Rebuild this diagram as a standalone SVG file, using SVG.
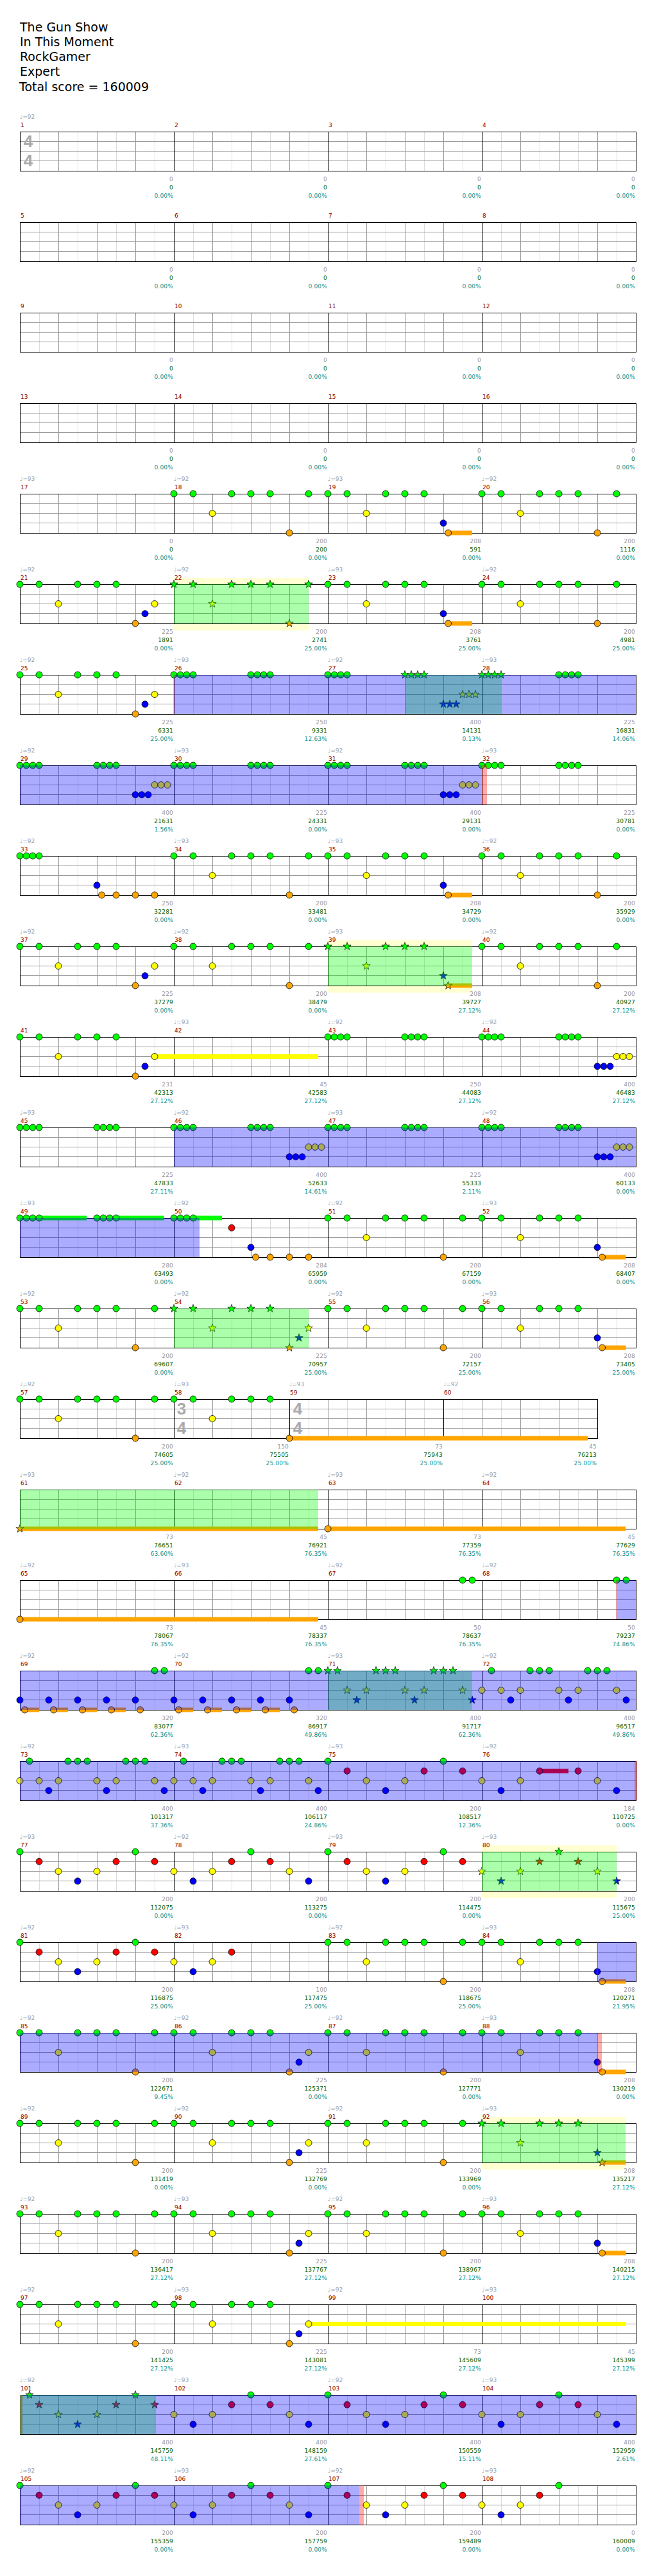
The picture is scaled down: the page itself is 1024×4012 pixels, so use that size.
<svg xmlns="http://www.w3.org/2000/svg" xmlns:xlink="http://www.w3.org/1999/xlink" width="1024" height="4012" viewBox="0 0 1024 4012">
<style>
text{font-family:"DejaVu Sans","Liberation Sans",sans-serif}
.h{font-size:19px;fill:#000}
.tp{font-size:9px;fill:#a0a0a0}
.mn{font-size:9px;fill:#8b0000}
.s1,.s2,.s3{font-size:9px;text-anchor:end;letter-spacing:.2px}
.s1{fill:#999}.s2{fill:#006400}.s3{fill:#009999}
text.ts{font-family:"Liberation Sans",sans-serif;font-size:26px;font-weight:bold;fill:#aaa;text-anchor:middle}
circle{stroke:#000;stroke-width:.8}
.g{fill:#00ff00}.r{fill:#ff0000}.y{fill:#ffff00}.b{fill:#0000ff}.o{fill:#ffa500}
.od{fill:#00ff00;fill-opacity:.33}
.bl{fill:#0000ff;fill-opacity:.33}
.yb{fill:#ffffd2}
.pk{fill:#ff0000;fill-opacity:.33}
.rl{fill:#ff3030;fill-opacity:.7}
</style>
<defs>
<path id="st" d="M0,-6.5L1.53,-2.1L6.18,-2.01L2.47,0.8L3.82,5.26L0,2.6L-3.82,5.26L-2.47,0.8L-6.18,-2.01L-1.53,-2.1Z" stroke="#000" stroke-width=".7"/>
<g id="staff" shape-rendering="crispEdges">
<rect x="31" y="0" width="960" height="61" fill="#fff"/>
<path d="M61 0V61M121 0V61M181 0V61M241 0V61M301 0V61M361 0V61M421 0V61M481 0V61M541 0V61M601 0V61M661 0V61M721 0V61M781 0V61M841 0V61M901 0V61M961 0V61" stroke="#ddd"/>
<path d="M91 0V61M151 0V61M211 0V61M331 0V61M391 0V61M451 0V61M571 0V61M631 0V61M691 0V61M811 0V61M871 0V61M931 0V61M31 15.25H991M31 30.5H991M31 45.75H991" stroke="#999"/>
<path d="M271 0V61M511 0V61M751 0V61" stroke="#000"/>
<rect x="31" y="0" width="960" height="61" fill="none" stroke="#000"/>
</g>
<g id="staff3" shape-rendering="crispEdges">
<rect x="31" y="0" width="900" height="61" fill="#fff"/>
<path d="M61 0V61M121 0V61M181 0V61M241 0V61M301 0V61M361 0V61M421 0V61M481 0V61M541 0V61M601 0V61M661 0V61M721 0V61M781 0V61M841 0V61M901 0V61" stroke="#ddd"/>
<path d="M91 0V61M151 0V61M211 0V61M331 0V61M391 0V61M511 0V61M571 0V61M631 0V61M751 0V61M811 0V61M871 0V61M31 15.25H931M31 30.5H931M31 45.75H931" stroke="#999"/>
<path d="M271 0V61M451 0V61M691 0V61" stroke="#000"/>
<rect x="31" y="0" width="900" height="61" fill="none" stroke="#000"/>
</g>
</defs>
<rect width="1024" height="4012" fill="#fff"/>
<g id="header">
<text class="h" x="31" y="49">The Gun Show</text>
<text class="h" x="31" y="72">In This Moment</text>
<text class="h" x="31" y="95">RockGamer</text>
<text class="h" x="31" y="118">Expert</text>
<text class="h" x="30" y="141.5">Total score = 160009</text>
</g>

<g id="row1" transform="translate(0,205)">
<use href="#staff"/>
<text class="ts" x="44" y="24.3">4</text><text class="ts" x="44" y="54">4</text>
<text class="tp" x="31" y="-20">♩=92</text>
<text class="mn" x="32" y="-7">1</text><text class="mn" x="272" y="-7">2</text><text class="mn" x="512" y="-7">3</text><text class="mn" x="752" y="-7">4</text>
<text class="s1" x="270" y="76.5">0</text><text class="s2" x="270" y="89.5">0</text><text class="s3" x="270" y="102.5">0.00%</text>
<text class="s1" x="510" y="76.5">0</text><text class="s2" x="510" y="89.5">0</text><text class="s3" x="510" y="102.5">0.00%</text>
<text class="s1" x="750" y="76.5">0</text><text class="s2" x="750" y="89.5">0</text><text class="s3" x="750" y="102.5">0.00%</text>
<text class="s1" x="990" y="76.5">0</text><text class="s2" x="990" y="89.5">0</text><text class="s3" x="990" y="102.5">0.00%</text>
</g>

<g id="row2" transform="translate(0,346)">
<use href="#staff"/>
<text class="mn" x="32" y="-7">5</text><text class="mn" x="272" y="-7">6</text><text class="mn" x="512" y="-7">7</text><text class="mn" x="752" y="-7">8</text>
<text class="s1" x="270" y="76.5">0</text><text class="s2" x="270" y="89.5">0</text><text class="s3" x="270" y="102.5">0.00%</text>
<text class="s1" x="510" y="76.5">0</text><text class="s2" x="510" y="89.5">0</text><text class="s3" x="510" y="102.5">0.00%</text>
<text class="s1" x="750" y="76.5">0</text><text class="s2" x="750" y="89.5">0</text><text class="s3" x="750" y="102.5">0.00%</text>
<text class="s1" x="990" y="76.5">0</text><text class="s2" x="990" y="89.5">0</text><text class="s3" x="990" y="102.5">0.00%</text>
</g>

<g id="row3" transform="translate(0,487)">
<use href="#staff"/>
<text class="mn" x="32" y="-7">9</text><text class="mn" x="272" y="-7">10</text><text class="mn" x="512" y="-7">11</text><text class="mn" x="752" y="-7">12</text>
<text class="s1" x="270" y="76.5">0</text><text class="s2" x="270" y="89.5">0</text><text class="s3" x="270" y="102.5">0.00%</text>
<text class="s1" x="510" y="76.5">0</text><text class="s2" x="510" y="89.5">0</text><text class="s3" x="510" y="102.5">0.00%</text>
<text class="s1" x="750" y="76.5">0</text><text class="s2" x="750" y="89.5">0</text><text class="s3" x="750" y="102.5">0.00%</text>
<text class="s1" x="990" y="76.5">0</text><text class="s2" x="990" y="89.5">0</text><text class="s3" x="990" y="102.5">0.00%</text>
</g>

<g id="row4" transform="translate(0,628)">
<use href="#staff"/>
<text class="mn" x="32" y="-7">13</text><text class="mn" x="272" y="-7">14</text><text class="mn" x="512" y="-7">15</text><text class="mn" x="752" y="-7">16</text>
<text class="s1" x="270" y="76.5">0</text><text class="s2" x="270" y="89.5">0</text><text class="s3" x="270" y="102.5">0.00%</text>
<text class="s1" x="510" y="76.5">0</text><text class="s2" x="510" y="89.5">0</text><text class="s3" x="510" y="102.5">0.00%</text>
<text class="s1" x="750" y="76.5">0</text><text class="s2" x="750" y="89.5">0</text><text class="s3" x="750" y="102.5">0.00%</text>
<text class="s1" x="990" y="76.5">0</text><text class="s2" x="990" y="89.5">0</text><text class="s3" x="990" y="102.5">0.00%</text>
</g>

<g id="row5" transform="translate(0,769)">
<use href="#staff"/>
<rect class="o" x="698.5" y="57.5" width="37.5" height="7"/>
<circle class="g" cx="271" cy="0" r="5"/><circle class="g" cx="301" cy="0" r="5"/><circle class="g" cx="361" cy="0" r="5"/><circle class="g" cx="391" cy="0" r="5"/><circle class="g" cx="421" cy="0" r="5"/><circle class="g" cx="481" cy="0" r="5"/><circle class="g" cx="511" cy="0" r="5"/><circle class="g" cx="541" cy="0" r="5"/><circle class="g" cx="601" cy="0" r="5"/><circle class="g" cx="631" cy="0" r="5"/><circle class="g" cx="661" cy="0" r="5"/><circle class="g" cx="751" cy="0" r="5"/><circle class="g" cx="781" cy="0" r="5"/><circle class="g" cx="841" cy="0" r="5"/><circle class="g" cx="871" cy="0" r="5"/><circle class="g" cx="901" cy="0" r="5"/><circle class="g" cx="961" cy="0" r="5"/>
<circle class="y" cx="331" cy="30.5" r="5"/><circle class="y" cx="571" cy="30.5" r="5"/><circle class="y" cx="811" cy="30.5" r="5"/>
<circle class="b" cx="691" cy="45.75" r="5"/>
<circle class="o" cx="451" cy="61" r="5"/><circle class="o" cx="698.5" cy="61" r="5"/><circle class="o" cx="931" cy="61" r="5"/>
<text class="tp" x="31" y="-20">♩=93</text><text class="tp" x="271" y="-20">♩=92</text><text class="tp" x="511" y="-20">♩=93</text><text class="tp" x="751" y="-20">♩=92</text>
<text class="mn" x="32" y="-7">17</text><text class="mn" x="272" y="-7">18</text><text class="mn" x="512" y="-7">19</text><text class="mn" x="752" y="-7">20</text>
<text class="s1" x="270" y="76.5">0</text><text class="s2" x="270" y="89.5">0</text><text class="s3" x="270" y="102.5">0.00%</text>
<text class="s1" x="510" y="76.5">200</text><text class="s2" x="510" y="89.5">200</text><text class="s3" x="510" y="102.5">0.00%</text>
<text class="s1" x="750" y="76.5">208</text><text class="s2" x="750" y="89.5">591</text><text class="s3" x="750" y="102.5">0.00%</text>
<text class="s1" x="990" y="76.5">200</text><text class="s2" x="990" y="89.5">1116</text><text class="s3" x="990" y="102.5">0.00%</text>
</g>

<g id="row6" transform="translate(0,910)">
<rect class="yb" x="271" y="-10" width="210" height="82"/>
<use href="#staff"/>
<rect class="o" x="698.5" y="57.5" width="37.5" height="7"/>
<circle class="g" cx="31" cy="0" r="5"/><circle class="g" cx="61" cy="0" r="5"/><circle class="g" cx="121" cy="0" r="5"/><circle class="g" cx="151" cy="0" r="5"/><circle class="g" cx="181" cy="0" r="5"/><circle class="g" cx="511" cy="0" r="5"/><circle class="g" cx="541" cy="0" r="5"/><circle class="g" cx="601" cy="0" r="5"/><circle class="g" cx="631" cy="0" r="5"/><circle class="g" cx="661" cy="0" r="5"/><circle class="g" cx="751" cy="0" r="5"/><circle class="g" cx="781" cy="0" r="5"/><circle class="g" cx="841" cy="0" r="5"/><circle class="g" cx="871" cy="0" r="5"/><circle class="g" cx="901" cy="0" r="5"/><circle class="g" cx="961" cy="0" r="5"/>
<circle class="y" cx="91" cy="30.5" r="5"/><circle class="y" cx="241" cy="30.5" r="5"/><circle class="y" cx="571" cy="30.5" r="5"/><circle class="y" cx="811" cy="30.5" r="5"/>
<circle class="b" cx="226" cy="45.75" r="5"/><circle class="b" cx="691" cy="45.75" r="5"/>
<circle class="o" cx="211" cy="61" r="5"/><circle class="o" cx="698.5" cy="61" r="5"/><circle class="o" cx="931" cy="61" r="5"/>
<use href="#st" class="g" x="271" y="0"/><use href="#st" class="g" x="301" y="0"/><use href="#st" class="g" x="361" y="0"/><use href="#st" class="g" x="391" y="0"/><use href="#st" class="g" x="421" y="0"/><use href="#st" class="g" x="481" y="0"/><use href="#st" class="y" x="331" y="30.5"/><use href="#st" class="o" x="451" y="61"/>
<rect class="od" x="271" y="0" width="210" height="61"/>
<text class="tp" x="31" y="-20">♩=92</text><text class="tp" x="271" y="-20">♩=92</text><text class="tp" x="511" y="-20">♩=93</text><text class="tp" x="751" y="-20">♩=92</text>
<text class="mn" x="32" y="-7">21</text><text class="mn" x="272" y="-7">22</text><text class="mn" x="512" y="-7">23</text><text class="mn" x="752" y="-7">24</text>
<text class="s1" x="270" y="76.5">225</text><text class="s2" x="270" y="89.5">1891</text><text class="s3" x="270" y="102.5">0.00%</text>
<text class="s1" x="510" y="76.5">200</text><text class="s2" x="510" y="89.5">2741</text><text class="s3" x="510" y="102.5">25.00%</text>
<text class="s1" x="750" y="76.5">208</text><text class="s2" x="750" y="89.5">3761</text><text class="s3" x="750" y="102.5">25.00%</text>
<text class="s1" x="990" y="76.5">200</text><text class="s2" x="990" y="89.5">4981</text><text class="s3" x="990" y="102.5">25.00%</text>
</g>

<g id="row7" transform="translate(0,1051)">
<use href="#staff"/>
<circle class="g" cx="31" cy="0" r="5"/><circle class="g" cx="61" cy="0" r="5"/><circle class="g" cx="121" cy="0" r="5"/><circle class="g" cx="151" cy="0" r="5"/><circle class="g" cx="181" cy="0" r="5"/>
<circle class="g" cx="271" cy="0" r="5"/><circle class="g" cx="281" cy="0" r="5"/><circle class="g" cx="291" cy="0" r="5"/><circle class="g" cx="301" cy="0" r="5"/>
<circle class="g" cx="391" cy="0" r="5"/><circle class="g" cx="401" cy="0" r="5"/><circle class="g" cx="411" cy="0" r="5"/><circle class="g" cx="421" cy="0" r="5"/>
<circle class="g" cx="511" cy="0" r="5"/><circle class="g" cx="521" cy="0" r="5"/><circle class="g" cx="531" cy="0" r="5"/><circle class="g" cx="541" cy="0" r="5"/>
<circle class="g" cx="871" cy="0" r="5"/><circle class="g" cx="881" cy="0" r="5"/><circle class="g" cx="891" cy="0" r="5"/><circle class="g" cx="901" cy="0" r="5"/>
<circle class="y" cx="91" cy="30.5" r="5"/><circle class="y" cx="241" cy="30.5" r="5"/>
<circle class="b" cx="226" cy="45.75" r="5"/>
<circle class="o" cx="211" cy="61" r="5"/>
<use href="#st" class="g" x="631" y="0"/><use href="#st" class="g" x="641" y="0"/><use href="#st" class="g" x="651" y="0"/><use href="#st" class="g" x="661" y="0"/>
<use href="#st" class="g" x="751" y="0"/><use href="#st" class="g" x="761" y="0"/><use href="#st" class="g" x="771" y="0"/><use href="#st" class="g" x="781" y="0"/>
<use href="#st" class="b" x="691" y="45.75"/><use href="#st" class="b" x="701" y="45.75"/><use href="#st" class="b" x="711" y="45.75"/>
<use href="#st" class="y" x="721" y="30.5"/><use href="#st" class="y" x="731" y="30.5"/><use href="#st" class="y" x="741" y="30.5"/>
<rect class="od" x="631" y="0" width="150" height="61"/>
<rect class="bl" x="271" y="0" width="720" height="61"/>
<rect class="rl" x="270.5" y="0" width="1" height="61"/>
<text class="tp" x="31" y="-20">♩=92</text><text class="tp" x="271" y="-20">♩=93</text><text class="tp" x="511" y="-20">♩=92</text><text class="tp" x="751" y="-20">♩=93</text>
<text class="mn" x="32" y="-7">25</text><text class="mn" x="272" y="-7">26</text><text class="mn" x="512" y="-7">27</text><text class="mn" x="752" y="-7">28</text>
<text class="s1" x="270" y="76.5">225</text><text class="s2" x="270" y="89.5">6331</text><text class="s3" x="270" y="102.5">25.00%</text>
<text class="s1" x="510" y="76.5">250</text><text class="s2" x="510" y="89.5">9331</text><text class="s3" x="510" y="102.5">12.63%</text>
<text class="s1" x="750" y="76.5">400</text><text class="s2" x="750" y="89.5">14131</text><text class="s3" x="750" y="102.5">0.13%</text>
<text class="s1" x="990" y="76.5">225</text><text class="s2" x="990" y="89.5">16831</text><text class="s3" x="990" y="102.5">14.06%</text>
</g>

<g id="row8" transform="translate(0,1192)">
<use href="#staff"/>
<circle class="g" cx="31" cy="0" r="5"/><circle class="g" cx="41" cy="0" r="5"/><circle class="g" cx="51" cy="0" r="5"/><circle class="g" cx="61" cy="0" r="5"/>
<circle class="g" cx="151" cy="0" r="5"/><circle class="g" cx="161" cy="0" r="5"/><circle class="g" cx="171" cy="0" r="5"/><circle class="g" cx="181" cy="0" r="5"/>
<circle class="g" cx="271" cy="0" r="5"/><circle class="g" cx="281" cy="0" r="5"/><circle class="g" cx="291" cy="0" r="5"/><circle class="g" cx="301" cy="0" r="5"/>
<circle class="g" cx="391" cy="0" r="5"/><circle class="g" cx="401" cy="0" r="5"/><circle class="g" cx="411" cy="0" r="5"/><circle class="g" cx="421" cy="0" r="5"/>
<circle class="g" cx="511" cy="0" r="5"/><circle class="g" cx="521" cy="0" r="5"/><circle class="g" cx="531" cy="0" r="5"/><circle class="g" cx="541" cy="0" r="5"/>
<circle class="g" cx="631" cy="0" r="5"/><circle class="g" cx="641" cy="0" r="5"/><circle class="g" cx="651" cy="0" r="5"/><circle class="g" cx="661" cy="0" r="5"/>
<circle class="g" cx="751" cy="0" r="5"/><circle class="g" cx="761" cy="0" r="5"/><circle class="g" cx="771" cy="0" r="5"/><circle class="g" cx="781" cy="0" r="5"/>
<circle class="g" cx="871" cy="0" r="5"/><circle class="g" cx="881" cy="0" r="5"/><circle class="g" cx="891" cy="0" r="5"/><circle class="g" cx="901" cy="0" r="5"/>
<circle class="b" cx="211" cy="45.75" r="5"/><circle class="b" cx="221" cy="45.75" r="5"/><circle class="b" cx="231" cy="45.75" r="5"/>
<circle class="y" cx="241" cy="30.5" r="5"/><circle class="y" cx="251" cy="30.5" r="5"/><circle class="y" cx="261" cy="30.5" r="5"/>
<circle class="b" cx="691" cy="45.75" r="5"/><circle class="b" cx="701" cy="45.75" r="5"/><circle class="b" cx="711" cy="45.75" r="5"/>
<circle class="y" cx="721" cy="30.5" r="5"/><circle class="y" cx="731" cy="30.5" r="5"/><circle class="y" cx="741" cy="30.5" r="5"/>
<rect class="bl" x="31" y="0" width="720" height="61"/>
<rect class="pk" x="751" y="0" width="8" height="61"/>
<text class="tp" x="31" y="-20">♩=92</text><text class="tp" x="271" y="-20">♩=93</text><text class="tp" x="511" y="-20">♩=92</text><text class="tp" x="751" y="-20">♩=93</text>
<text class="mn" x="32" y="-7">29</text><text class="mn" x="272" y="-7">30</text><text class="mn" x="512" y="-7">31</text><text class="mn" x="752" y="-7">32</text>
<text class="s1" x="270" y="76.5">400</text><text class="s2" x="270" y="89.5">21631</text><text class="s3" x="270" y="102.5">1.56%</text>
<text class="s1" x="510" y="76.5">225</text><text class="s2" x="510" y="89.5">24331</text><text class="s3" x="510" y="102.5">0.00%</text>
<text class="s1" x="750" y="76.5">400</text><text class="s2" x="750" y="89.5">29131</text><text class="s3" x="750" y="102.5">0.00%</text>
<text class="s1" x="990" y="76.5">225</text><text class="s2" x="990" y="89.5">30781</text><text class="s3" x="990" y="102.5">0.00%</text>
</g>

<g id="row9" transform="translate(0,1333)">
<use href="#staff"/>
<rect class="o" x="698.5" y="57.5" width="37.5" height="7"/>
<circle class="g" cx="31" cy="0" r="5"/><circle class="g" cx="41" cy="0" r="5"/><circle class="g" cx="51" cy="0" r="5"/><circle class="g" cx="61" cy="0" r="5"/>
<circle class="g" cx="271" cy="0" r="5"/><circle class="g" cx="301" cy="0" r="5"/><circle class="g" cx="361" cy="0" r="5"/><circle class="g" cx="391" cy="0" r="5"/><circle class="g" cx="421" cy="0" r="5"/><circle class="g" cx="481" cy="0" r="5"/><circle class="g" cx="511" cy="0" r="5"/><circle class="g" cx="541" cy="0" r="5"/><circle class="g" cx="601" cy="0" r="5"/><circle class="g" cx="631" cy="0" r="5"/><circle class="g" cx="661" cy="0" r="5"/><circle class="g" cx="751" cy="0" r="5"/><circle class="g" cx="781" cy="0" r="5"/><circle class="g" cx="841" cy="0" r="5"/><circle class="g" cx="871" cy="0" r="5"/><circle class="g" cx="901" cy="0" r="5"/><circle class="g" cx="961" cy="0" r="5"/>
<circle class="y" cx="331" cy="30.5" r="5"/><circle class="y" cx="571" cy="30.5" r="5"/><circle class="y" cx="811" cy="30.5" r="5"/>
<circle class="b" cx="151" cy="45.75" r="5"/><circle class="b" cx="691" cy="45.75" r="5"/>
<circle class="o" cx="158.5" cy="61" r="5"/><circle class="o" cx="181" cy="61" r="5"/><circle class="o" cx="211" cy="61" r="5"/><circle class="o" cx="241" cy="61" r="5"/><circle class="o" cx="451" cy="61" r="5"/><circle class="o" cx="698.5" cy="61" r="5"/><circle class="o" cx="931" cy="61" r="5"/>
<text class="tp" x="31" y="-20">♩=92</text><text class="tp" x="271" y="-20">♩=93</text><text class="tp" x="511" y="-20">♩=93</text><text class="tp" x="751" y="-20">♩=92</text>
<text class="mn" x="32" y="-7">33</text><text class="mn" x="272" y="-7">34</text><text class="mn" x="512" y="-7">35</text><text class="mn" x="752" y="-7">36</text>
<text class="s1" x="270" y="76.5">250</text><text class="s2" x="270" y="89.5">32281</text><text class="s3" x="270" y="102.5">0.00%</text>
<text class="s1" x="510" y="76.5">200</text><text class="s2" x="510" y="89.5">33481</text><text class="s3" x="510" y="102.5">0.00%</text>
<text class="s1" x="750" y="76.5">208</text><text class="s2" x="750" y="89.5">34729</text><text class="s3" x="750" y="102.5">0.00%</text>
<text class="s1" x="990" y="76.5">200</text><text class="s2" x="990" y="89.5">35929</text><text class="s3" x="990" y="102.5">0.00%</text>
</g>

<g id="row10" transform="translate(0,1474)">
<rect class="yb" x="511" y="-10" width="225" height="82"/>
<use href="#staff"/>
<rect class="o" x="698.5" y="57.5" width="37.5" height="7"/>
<circle class="g" cx="31" cy="0" r="5"/><circle class="g" cx="61" cy="0" r="5"/><circle class="g" cx="121" cy="0" r="5"/><circle class="g" cx="151" cy="0" r="5"/><circle class="g" cx="181" cy="0" r="5"/><circle class="g" cx="271" cy="0" r="5"/><circle class="g" cx="301" cy="0" r="5"/><circle class="g" cx="361" cy="0" r="5"/><circle class="g" cx="391" cy="0" r="5"/><circle class="g" cx="421" cy="0" r="5"/><circle class="g" cx="481" cy="0" r="5"/><circle class="g" cx="751" cy="0" r="5"/><circle class="g" cx="781" cy="0" r="5"/><circle class="g" cx="841" cy="0" r="5"/><circle class="g" cx="871" cy="0" r="5"/><circle class="g" cx="901" cy="0" r="5"/><circle class="g" cx="961" cy="0" r="5"/>
<circle class="y" cx="91" cy="30.5" r="5"/><circle class="y" cx="241" cy="30.5" r="5"/><circle class="y" cx="331" cy="30.5" r="5"/><circle class="y" cx="811" cy="30.5" r="5"/>
<circle class="b" cx="226" cy="45.75" r="5"/>
<circle class="o" cx="211" cy="61" r="5"/><circle class="o" cx="451" cy="61" r="5"/><circle class="o" cx="931" cy="61" r="5"/>
<use href="#st" class="g" x="511" y="0"/><use href="#st" class="g" x="541" y="0"/><use href="#st" class="g" x="601" y="0"/><use href="#st" class="g" x="631" y="0"/><use href="#st" class="g" x="661" y="0"/><use href="#st" class="y" x="571" y="30.5"/><use href="#st" class="b" x="691" y="45.75"/><use href="#st" class="o" x="698.5" y="61"/>
<rect class="od" x="511" y="0" width="225" height="61"/>
<text class="tp" x="31" y="-20">♩=92</text><text class="tp" x="271" y="-20">♩=92</text><text class="tp" x="511" y="-20">♩=93</text><text class="tp" x="751" y="-20">♩=92</text>
<text class="mn" x="32" y="-7">37</text><text class="mn" x="272" y="-7">38</text><text class="mn" x="512" y="-7">39</text><text class="mn" x="752" y="-7">40</text>
<text class="s1" x="270" y="76.5">225</text><text class="s2" x="270" y="89.5">37279</text><text class="s3" x="270" y="102.5">0.00%</text>
<text class="s1" x="510" y="76.5">200</text><text class="s2" x="510" y="89.5">38479</text><text class="s3" x="510" y="102.5">0.00%</text>
<text class="s1" x="750" y="76.5">208</text><text class="s2" x="750" y="89.5">39727</text><text class="s3" x="750" y="102.5">27.12%</text>
<text class="s1" x="990" y="76.5">200</text><text class="s2" x="990" y="89.5">40927</text><text class="s3" x="990" y="102.5">27.12%</text>
</g>

<g id="row11" transform="translate(0,1615)">
<use href="#staff"/>
<rect class="y" x="241" y="27" width="255" height="7"/>
<circle class="g" cx="31" cy="0" r="5"/><circle class="g" cx="61" cy="0" r="5"/><circle class="g" cx="121" cy="0" r="5"/><circle class="g" cx="151" cy="0" r="5"/><circle class="g" cx="181" cy="0" r="5"/>
<circle class="g" cx="511" cy="0" r="5"/><circle class="g" cx="521" cy="0" r="5"/><circle class="g" cx="531" cy="0" r="5"/><circle class="g" cx="541" cy="0" r="5"/>
<circle class="g" cx="631" cy="0" r="5"/><circle class="g" cx="641" cy="0" r="5"/><circle class="g" cx="651" cy="0" r="5"/><circle class="g" cx="661" cy="0" r="5"/>
<circle class="g" cx="751" cy="0" r="5"/><circle class="g" cx="761" cy="0" r="5"/><circle class="g" cx="771" cy="0" r="5"/><circle class="g" cx="781" cy="0" r="5"/>
<circle class="g" cx="871" cy="0" r="5"/><circle class="g" cx="881" cy="0" r="5"/><circle class="g" cx="891" cy="0" r="5"/><circle class="g" cx="901" cy="0" r="5"/>
<circle class="y" cx="91" cy="30.5" r="5"/><circle class="y" cx="241" cy="30.5" r="5"/>
<circle class="y" cx="961" cy="30.5" r="5"/><circle class="y" cx="971" cy="30.5" r="5"/><circle class="y" cx="981" cy="30.5" r="5"/>
<circle class="b" cx="226" cy="45.75" r="5"/>
<circle class="b" cx="931" cy="45.75" r="5"/><circle class="b" cx="941" cy="45.75" r="5"/><circle class="b" cx="951" cy="45.75" r="5"/>
<circle class="o" cx="211" cy="61" r="5"/>
<text class="tp" x="271" y="-20">♩=93</text><text class="tp" x="511" y="-20">♩=92</text><text class="tp" x="751" y="-20">♩=92</text>
<text class="mn" x="32" y="-7">41</text><text class="mn" x="272" y="-7">42</text><text class="mn" x="512" y="-7">43</text><text class="mn" x="752" y="-7">44</text>
<text class="s1" x="270" y="76.5">231</text><text class="s2" x="270" y="89.5">42313</text><text class="s3" x="270" y="102.5">27.12%</text>
<text class="s1" x="510" y="76.5">45</text><text class="s2" x="510" y="89.5">42583</text><text class="s3" x="510" y="102.5">27.12%</text>
<text class="s1" x="750" y="76.5">250</text><text class="s2" x="750" y="89.5">44083</text><text class="s3" x="750" y="102.5">27.12%</text>
<text class="s1" x="990" y="76.5">400</text><text class="s2" x="990" y="89.5">46483</text><text class="s3" x="990" y="102.5">27.12%</text>
</g>

<g id="row12" transform="translate(0,1756)">
<use href="#staff"/>
<circle class="g" cx="31" cy="0" r="5"/><circle class="g" cx="41" cy="0" r="5"/><circle class="g" cx="51" cy="0" r="5"/><circle class="g" cx="61" cy="0" r="5"/>
<circle class="g" cx="151" cy="0" r="5"/><circle class="g" cx="161" cy="0" r="5"/><circle class="g" cx="171" cy="0" r="5"/><circle class="g" cx="181" cy="0" r="5"/>
<circle class="g" cx="271" cy="0" r="5"/><circle class="g" cx="281" cy="0" r="5"/><circle class="g" cx="291" cy="0" r="5"/><circle class="g" cx="301" cy="0" r="5"/>
<circle class="g" cx="391" cy="0" r="5"/><circle class="g" cx="401" cy="0" r="5"/><circle class="g" cx="411" cy="0" r="5"/><circle class="g" cx="421" cy="0" r="5"/>
<circle class="g" cx="511" cy="0" r="5"/><circle class="g" cx="521" cy="0" r="5"/><circle class="g" cx="531" cy="0" r="5"/><circle class="g" cx="541" cy="0" r="5"/>
<circle class="g" cx="631" cy="0" r="5"/><circle class="g" cx="641" cy="0" r="5"/><circle class="g" cx="651" cy="0" r="5"/><circle class="g" cx="661" cy="0" r="5"/>
<circle class="g" cx="751" cy="0" r="5"/><circle class="g" cx="761" cy="0" r="5"/><circle class="g" cx="771" cy="0" r="5"/><circle class="g" cx="781" cy="0" r="5"/>
<circle class="g" cx="871" cy="0" r="5"/><circle class="g" cx="881" cy="0" r="5"/><circle class="g" cx="891" cy="0" r="5"/><circle class="g" cx="901" cy="0" r="5"/>
<circle class="b" cx="451" cy="45.75" r="5"/><circle class="b" cx="461" cy="45.75" r="5"/><circle class="b" cx="471" cy="45.75" r="5"/>
<circle class="y" cx="481" cy="30.5" r="5"/><circle class="y" cx="491" cy="30.5" r="5"/><circle class="y" cx="501" cy="30.5" r="5"/>
<circle class="b" cx="931" cy="45.75" r="5"/><circle class="b" cx="941" cy="45.75" r="5"/><circle class="b" cx="951" cy="45.75" r="5"/>
<circle class="y" cx="961" cy="30.5" r="5"/><circle class="y" cx="971" cy="30.5" r="5"/><circle class="y" cx="981" cy="30.5" r="5"/>
<rect class="bl" x="271" y="0" width="720" height="61"/>
<text class="tp" x="31" y="-20">♩=93</text><text class="tp" x="271" y="-20">♩=92</text><text class="tp" x="511" y="-20">♩=93</text><text class="tp" x="751" y="-20">♩=92</text>
<text class="mn" x="32" y="-7">45</text><text class="mn" x="272" y="-7">46</text><text class="mn" x="512" y="-7">47</text><text class="mn" x="752" y="-7">48</text>
<text class="s1" x="270" y="76.5">225</text><text class="s2" x="270" y="89.5">47833</text><text class="s3" x="270" y="102.5">27.11%</text>
<text class="s1" x="510" y="76.5">400</text><text class="s2" x="510" y="89.5">52633</text><text class="s3" x="510" y="102.5">14.61%</text>
<text class="s1" x="750" y="76.5">225</text><text class="s2" x="750" y="89.5">55333</text><text class="s3" x="750" y="102.5">2.11%</text>
<text class="s1" x="990" y="76.5">400</text><text class="s2" x="990" y="89.5">60133</text><text class="s3" x="990" y="102.5">0.00%</text>
</g>

<g id="row13" transform="translate(0,1897)">
<use href="#staff"/>
<rect class="g" x="61" y="-3.5" width="74" height="7"/><rect class="g" x="181" y="-3.5" width="75" height="7"/><rect class="g" x="301" y="-3.5" width="45" height="7"/>
<rect class="o" x="938.5" y="57.5" width="37" height="7"/>
<circle class="g" cx="31" cy="0" r="5"/><circle class="g" cx="41" cy="0" r="5"/><circle class="g" cx="51" cy="0" r="5"/><circle class="g" cx="61" cy="0" r="5"/>
<circle class="g" cx="151" cy="0" r="5"/><circle class="g" cx="161" cy="0" r="5"/><circle class="g" cx="171" cy="0" r="5"/><circle class="g" cx="181" cy="0" r="5"/>
<circle class="g" cx="271" cy="0" r="5"/><circle class="g" cx="281" cy="0" r="5"/><circle class="g" cx="291" cy="0" r="5"/><circle class="g" cx="301" cy="0" r="5"/>
<circle class="g" cx="511" cy="0" r="5"/><circle class="g" cx="541" cy="0" r="5"/><circle class="g" cx="601" cy="0" r="5"/><circle class="g" cx="631" cy="0" r="5"/><circle class="g" cx="661" cy="0" r="5"/><circle class="g" cx="721" cy="0" r="5"/><circle class="g" cx="751" cy="0" r="5"/><circle class="g" cx="781" cy="0" r="5"/><circle class="g" cx="841" cy="0" r="5"/><circle class="g" cx="871" cy="0" r="5"/><circle class="g" cx="901" cy="0" r="5"/>
<circle class="r" cx="361" cy="15.25" r="5"/>
<circle class="y" cx="571" cy="30.5" r="5"/><circle class="y" cx="811" cy="30.5" r="5"/>
<circle class="b" cx="391" cy="45.75" r="5"/><circle class="b" cx="931" cy="45.75" r="5"/>
<circle class="o" cx="398.5" cy="61" r="5"/><circle class="o" cx="421" cy="61" r="5"/><circle class="o" cx="451" cy="61" r="5"/><circle class="o" cx="481" cy="61" r="5"/><circle class="o" cx="691" cy="61" r="5"/><circle class="o" cx="938.5" cy="61" r="5"/>
<rect class="bl" x="31" y="0" width="280" height="61"/>
<text class="tp" x="31" y="-20">♩=93</text><text class="tp" x="271" y="-20">♩=92</text><text class="tp" x="511" y="-20">♩=92</text><text class="tp" x="751" y="-20">♩=93</text>
<text class="mn" x="32" y="-7">49</text><text class="mn" x="272" y="-7">50</text><text class="mn" x="512" y="-7">51</text><text class="mn" x="752" y="-7">52</text>
<text class="s1" x="270" y="76.5">280</text><text class="s2" x="270" y="89.5">63493</text><text class="s3" x="270" y="102.5">0.00%</text>
<text class="s1" x="510" y="76.5">284</text><text class="s2" x="510" y="89.5">65959</text><text class="s3" x="510" y="102.5">0.00%</text>
<text class="s1" x="750" y="76.5">200</text><text class="s2" x="750" y="89.5">67159</text><text class="s3" x="750" y="102.5">0.00%</text>
<text class="s1" x="990" y="76.5">208</text><text class="s2" x="990" y="89.5">68407</text><text class="s3" x="990" y="102.5">0.00%</text>
</g>

<g id="row14" transform="translate(0,2038)">
<use href="#staff"/>
<rect class="o" x="938.5" y="57.5" width="37" height="7"/>
<circle class="g" cx="31" cy="0" r="5"/><circle class="g" cx="61" cy="0" r="5"/><circle class="g" cx="121" cy="0" r="5"/><circle class="g" cx="151" cy="0" r="5"/><circle class="g" cx="181" cy="0" r="5"/><circle class="g" cx="241" cy="0" r="5"/><circle class="g" cx="511" cy="0" r="5"/><circle class="g" cx="541" cy="0" r="5"/><circle class="g" cx="601" cy="0" r="5"/><circle class="g" cx="631" cy="0" r="5"/><circle class="g" cx="661" cy="0" r="5"/><circle class="g" cx="721" cy="0" r="5"/><circle class="g" cx="751" cy="0" r="5"/><circle class="g" cx="781" cy="0" r="5"/><circle class="g" cx="841" cy="0" r="5"/><circle class="g" cx="871" cy="0" r="5"/><circle class="g" cx="901" cy="0" r="5"/>
<circle class="y" cx="91" cy="30.5" r="5"/><circle class="y" cx="571" cy="30.5" r="5"/><circle class="y" cx="811" cy="30.5" r="5"/>
<circle class="b" cx="931" cy="45.75" r="5"/>
<circle class="o" cx="211" cy="61" r="5"/><circle class="o" cx="691" cy="61" r="5"/><circle class="o" cx="938.5" cy="61" r="5"/>
<use href="#st" class="g" x="271" y="0"/><use href="#st" class="g" x="301" y="0"/><use href="#st" class="g" x="361" y="0"/><use href="#st" class="g" x="391" y="0"/><use href="#st" class="g" x="421" y="0"/><use href="#st" class="y" x="331" y="30.5"/><use href="#st" class="y" x="481" y="30.5"/><use href="#st" class="b" x="466" y="45.75"/><use href="#st" class="o" x="451" y="61"/>
<rect class="od" x="271" y="0" width="210" height="61"/>
<text class="tp" x="31" y="-20">♩=92</text><text class="tp" x="271" y="-20">♩=92</text><text class="tp" x="511" y="-20">♩=92</text><text class="tp" x="751" y="-20">♩=93</text>
<text class="mn" x="32" y="-7">53</text><text class="mn" x="272" y="-7">54</text><text class="mn" x="512" y="-7">55</text><text class="mn" x="752" y="-7">56</text>
<text class="s1" x="270" y="76.5">200</text><text class="s2" x="270" y="89.5">69607</text><text class="s3" x="270" y="102.5">0.00%</text>
<text class="s1" x="510" y="76.5">225</text><text class="s2" x="510" y="89.5">70957</text><text class="s3" x="510" y="102.5">25.00%</text>
<text class="s1" x="750" y="76.5">200</text><text class="s2" x="750" y="89.5">72157</text><text class="s3" x="750" y="102.5">25.00%</text>
<text class="s1" x="990" y="76.5">208</text><text class="s2" x="990" y="89.5">73405</text><text class="s3" x="990" y="102.5">25.00%</text>
</g>

<g id="row15" transform="translate(0,2179)">
<use href="#staff3"/>
<text class="ts" x="283" y="24.3">3</text><text class="ts" x="283" y="54">4</text>
<text class="ts" x="464" y="24.3">4</text><text class="ts" x="464" y="54">4</text>
<rect class="o" x="451" y="57.5" width="465" height="7"/>
<circle class="g" cx="31" cy="0" r="5"/><circle class="g" cx="61" cy="0" r="5"/><circle class="g" cx="121" cy="0" r="5"/><circle class="g" cx="151" cy="0" r="5"/><circle class="g" cx="181" cy="0" r="5"/><circle class="g" cx="241" cy="0" r="5"/><circle class="g" cx="271" cy="0" r="5"/><circle class="g" cx="301" cy="0" r="5"/><circle class="g" cx="361" cy="0" r="5"/><circle class="g" cx="391" cy="0" r="5"/><circle class="g" cx="421" cy="0" r="5"/>
<circle class="y" cx="91" cy="30.5" r="5"/><circle class="y" cx="331" cy="30.5" r="5"/>
<circle class="o" cx="211" cy="61" r="5"/><circle class="o" cx="451" cy="61" r="5"/>
<text class="tp" x="31" y="-20">♩=92</text><text class="tp" x="271" y="-20">♩=93</text><text class="tp" x="451" y="-20">♩=93</text><text class="tp" x="691" y="-20">♩=92</text>
<text class="mn" x="32" y="-7">57</text><text class="mn" x="272" y="-7">58</text><text class="mn" x="452" y="-7">59</text><text class="mn" x="692" y="-7">60</text>
<text class="s1" x="270" y="76.5">200</text><text class="s2" x="270" y="89.5">74605</text><text class="s3" x="270" y="102.5">25.00%</text>
<text class="s1" x="450" y="76.5">150</text><text class="s2" x="450" y="89.5">75505</text><text class="s3" x="450" y="102.5">25.00%</text>
<text class="s1" x="690" y="76.5">73</text><text class="s2" x="690" y="89.5">75943</text><text class="s3" x="690" y="102.5">25.00%</text>
<text class="s1" x="930" y="76.5">45</text><text class="s2" x="930" y="89.5">76213</text><text class="s3" x="930" y="102.5">25.00%</text>
</g>

<g id="row16" transform="translate(0,2320)">
<use href="#staff"/>
<rect class="o" x="31" y="57.5" width="465" height="7"/><rect class="o" x="511" y="57.5" width="464" height="7"/>
<use href="#st" class="o" x="31" y="61"/>
<circle class="o" cx="511" cy="61" r="5"/>
<rect class="od" x="31" y="0" width="465" height="61"/>
<text class="tp" x="31" y="-20">♩=93</text><text class="tp" x="271" y="-20">♩=92</text><text class="tp" x="511" y="-20">♩=93</text><text class="tp" x="751" y="-20">♩=92</text>
<text class="mn" x="32" y="-7">61</text><text class="mn" x="272" y="-7">62</text><text class="mn" x="512" y="-7">63</text><text class="mn" x="752" y="-7">64</text>
<text class="s1" x="270" y="76.5">73</text><text class="s2" x="270" y="89.5">76651</text><text class="s3" x="270" y="102.5">63.60%</text>
<text class="s1" x="510" y="76.5">45</text><text class="s2" x="510" y="89.5">76921</text><text class="s3" x="510" y="102.5">76.35%</text>
<text class="s1" x="750" y="76.5">73</text><text class="s2" x="750" y="89.5">77359</text><text class="s3" x="750" y="102.5">76.35%</text>
<text class="s1" x="990" y="76.5">45</text><text class="s2" x="990" y="89.5">77629</text><text class="s3" x="990" y="102.5">76.35%</text>
</g>

<g id="row17" transform="translate(0,2461)">
<use href="#staff"/>
<rect class="o" x="31" y="57.5" width="465" height="7"/>
<circle class="o" cx="31" cy="61" r="5"/>
<circle class="g" cx="721" cy="0" r="5"/><circle class="g" cx="736" cy="0" r="5"/><circle class="g" cx="961" cy="0" r="5"/><circle class="g" cx="976" cy="0" r="5"/>
<rect class="bl" x="961" y="0" width="30" height="61"/>
<rect class="rl" x="960.5" y="0" width="1" height="61"/>
<text class="tp" x="31" y="-20">♩=92</text><text class="tp" x="271" y="-20">♩=93</text><text class="tp" x="511" y="-20">♩=92</text><text class="tp" x="751" y="-20">♩=92</text>
<text class="mn" x="32" y="-7">65</text><text class="mn" x="272" y="-7">66</text><text class="mn" x="512" y="-7">67</text><text class="mn" x="752" y="-7">68</text>
<text class="s1" x="270" y="76.5">73</text><text class="s2" x="270" y="89.5">78067</text><text class="s3" x="270" y="102.5">76.35%</text>
<text class="s1" x="510" y="76.5">45</text><text class="s2" x="510" y="89.5">78337</text><text class="s3" x="510" y="102.5">76.35%</text>
<text class="s1" x="750" y="76.5">50</text><text class="s2" x="750" y="89.5">78637</text><text class="s3" x="750" y="102.5">76.35%</text>
<text class="s1" x="990" y="76.5">50</text><text class="s2" x="990" y="89.5">79237</text><text class="s3" x="990" y="102.5">74.86%</text>
</g>

<g id="row18" transform="translate(0,2602)">
<use href="#staff"/>
<rect class="o" x="38.5" y="57.5" width="22.5" height="7"/><rect class="o" x="83.5" y="57.5" width="22.5" height="7"/><rect class="o" x="128.5" y="57.5" width="22.5" height="7"/><rect class="o" x="173.5" y="57.5" width="22.5" height="7"/><rect class="o" x="278.5" y="57.5" width="22.5" height="7"/><rect class="o" x="323.5" y="57.5" width="22.5" height="7"/><rect class="o" x="368.5" y="57.5" width="22.5" height="7"/><rect class="o" x="413.5" y="57.5" width="22.5" height="7"/>
<circle class="b" cx="31" cy="45.75" r="5"/><circle class="b" cx="76" cy="45.75" r="5"/><circle class="b" cx="121" cy="45.75" r="5"/><circle class="b" cx="166" cy="45.75" r="5"/><circle class="b" cx="211" cy="45.75" r="5"/><circle class="b" cx="271" cy="45.75" r="5"/><circle class="b" cx="316" cy="45.75" r="5"/><circle class="b" cx="361" cy="45.75" r="5"/><circle class="b" cx="406" cy="45.75" r="5"/><circle class="b" cx="451" cy="45.75" r="5"/><circle class="b" cx="796" cy="45.75" r="5"/><circle class="b" cx="886" cy="45.75" r="5"/><circle class="b" cx="976" cy="45.75" r="5"/>
<circle class="o" cx="38.5" cy="61" r="5"/><circle class="o" cx="83.5" cy="61" r="5"/><circle class="o" cx="128.5" cy="61" r="5"/><circle class="o" cx="173.5" cy="61" r="5"/><circle class="o" cx="218.5" cy="61" r="5"/><circle class="o" cx="278.5" cy="61" r="5"/><circle class="o" cx="323.5" cy="61" r="5"/><circle class="o" cx="368.5" cy="61" r="5"/><circle class="o" cx="413.5" cy="61" r="5"/><circle class="o" cx="458.5" cy="61" r="5"/>
<circle class="g" cx="241" cy="0" r="5"/><circle class="g" cx="256" cy="0" r="5"/><circle class="g" cx="481" cy="0" r="5"/><circle class="g" cx="496" cy="0" r="5"/><circle class="g" cx="766" cy="0" r="5"/><circle class="g" cx="826" cy="0" r="5"/><circle class="g" cx="841" cy="0" r="5"/><circle class="g" cx="856" cy="0" r="5"/><circle class="g" cx="916" cy="0" r="5"/><circle class="g" cx="931" cy="0" r="5"/><circle class="g" cx="946" cy="0" r="5"/>
<circle class="y" cx="751" cy="30.5" r="5"/><circle class="y" cx="781" cy="30.5" r="5"/><circle class="y" cx="811" cy="30.5" r="5"/><circle class="y" cx="871" cy="30.5" r="5"/><circle class="y" cx="901" cy="30.5" r="5"/><circle class="y" cx="961" cy="30.5" r="5"/>
<use href="#st" class="g" x="511" y="0"/><use href="#st" class="g" x="526" y="0"/><use href="#st" class="g" x="586" y="0"/><use href="#st" class="g" x="601" y="0"/><use href="#st" class="g" x="616" y="0"/><use href="#st" class="g" x="676" y="0"/><use href="#st" class="g" x="691" y="0"/><use href="#st" class="g" x="706" y="0"/>
<use href="#st" class="y" x="541" y="30.5"/><use href="#st" class="y" x="571" y="30.5"/><use href="#st" class="y" x="631" y="30.5"/><use href="#st" class="y" x="661" y="30.5"/><use href="#st" class="y" x="721" y="30.5"/>
<use href="#st" class="b" x="556" y="45.75"/><use href="#st" class="b" x="646" y="45.75"/><use href="#st" class="b" x="736" y="45.75"/>
<rect class="od" x="511" y="0" width="225" height="61"/>
<rect class="bl" x="31" y="0" width="960" height="61"/>
<text class="tp" x="31" y="-20">♩=92</text><text class="tp" x="271" y="-20">♩=92</text><text class="tp" x="511" y="-20">♩=93</text><text class="tp" x="751" y="-20">♩=92</text>
<text class="mn" x="32" y="-7">69</text><text class="mn" x="272" y="-7">70</text><text class="mn" x="512" y="-7">71</text><text class="mn" x="752" y="-7">72</text>
<text class="s1" x="270" y="76.5">320</text><text class="s2" x="270" y="89.5">83077</text><text class="s3" x="270" y="102.5">62.36%</text>
<text class="s1" x="510" y="76.5">320</text><text class="s2" x="510" y="89.5">86917</text><text class="s3" x="510" y="102.5">49.86%</text>
<text class="s1" x="750" y="76.5">400</text><text class="s2" x="750" y="89.5">91717</text><text class="s3" x="750" y="102.5">62.36%</text>
<text class="s1" x="990" y="76.5">400</text><text class="s2" x="990" y="89.5">96517</text><text class="s3" x="990" y="102.5">49.86%</text>
</g>

<g id="row19" transform="translate(0,2743)">
<use href="#staff"/>
<rect class="r" x="841" y="11.75" width="45" height="7"/>
<circle class="g" cx="46" cy="0" r="5"/><circle class="g" cx="106" cy="0" r="5"/><circle class="g" cx="121" cy="0" r="5"/><circle class="g" cx="136" cy="0" r="5"/><circle class="g" cx="196" cy="0" r="5"/><circle class="g" cx="211" cy="0" r="5"/><circle class="g" cx="226" cy="0" r="5"/><circle class="g" cx="286" cy="0" r="5"/><circle class="g" cx="346" cy="0" r="5"/><circle class="g" cx="361" cy="0" r="5"/><circle class="g" cx="376" cy="0" r="5"/><circle class="g" cx="436" cy="0" r="5"/><circle class="g" cx="451" cy="0" r="5"/><circle class="g" cx="466" cy="0" r="5"/><circle class="g" cx="511" cy="0" r="5"/><circle class="g" cx="691" cy="0" r="5"/>
<circle class="r" cx="541" cy="15.25" r="5"/><circle class="r" cx="661" cy="15.25" r="5"/><circle class="r" cx="721" cy="15.25" r="5"/><circle class="r" cx="841" cy="15.25" r="5"/><circle class="r" cx="901" cy="15.25" r="5"/>
<circle class="y" cx="31" cy="30.5" r="5"/><circle class="y" cx="61" cy="30.5" r="5"/><circle class="y" cx="91" cy="30.5" r="5"/><circle class="y" cx="151" cy="30.5" r="5"/><circle class="y" cx="181" cy="30.5" r="5"/><circle class="y" cx="241" cy="30.5" r="5"/><circle class="y" cx="271" cy="30.5" r="5"/><circle class="y" cx="301" cy="30.5" r="5"/><circle class="y" cx="331" cy="30.5" r="5"/><circle class="y" cx="391" cy="30.5" r="5"/><circle class="y" cx="421" cy="30.5" r="5"/><circle class="y" cx="481" cy="30.5" r="5"/><circle class="y" cx="571" cy="30.5" r="5"/><circle class="y" cx="631" cy="30.5" r="5"/><circle class="y" cx="751" cy="30.5" r="5"/><circle class="y" cx="811" cy="30.5" r="5"/><circle class="y" cx="931" cy="30.5" r="5"/>
<circle class="b" cx="76" cy="45.75" r="5"/><circle class="b" cx="166" cy="45.75" r="5"/><circle class="b" cx="256" cy="45.75" r="5"/><circle class="b" cx="316" cy="45.75" r="5"/><circle class="b" cx="406" cy="45.75" r="5"/><circle class="b" cx="496" cy="45.75" r="5"/><circle class="b" cx="601" cy="45.75" r="5"/><circle class="b" cx="781" cy="45.75" r="5"/><circle class="b" cx="961" cy="45.75" r="5"/>
<rect class="bl" x="31" y="0" width="960" height="61"/>
<rect class="pk" x="989" y="0" width="4" height="61"/>
<text class="tp" x="31" y="-20">♩=92</text><text class="tp" x="271" y="-20">♩=93</text><text class="tp" x="511" y="-20">♩=93</text><text class="tp" x="751" y="-20">♩=92</text>
<text class="mn" x="32" y="-7">73</text><text class="mn" x="272" y="-7">74</text><text class="mn" x="512" y="-7">75</text><text class="mn" x="752" y="-7">76</text>
<text class="s1" x="270" y="76.5">400</text><text class="s2" x="270" y="89.5">101317</text><text class="s3" x="270" y="102.5">37.36%</text>
<text class="s1" x="510" y="76.5">400</text><text class="s2" x="510" y="89.5">106117</text><text class="s3" x="510" y="102.5">24.86%</text>
<text class="s1" x="750" y="76.5">200</text><text class="s2" x="750" y="89.5">108517</text><text class="s3" x="750" y="102.5">12.36%</text>
<text class="s1" x="990" y="76.5">184</text><text class="s2" x="990" y="89.5">110725</text><text class="s3" x="990" y="102.5">0.00%</text>
</g>

<g id="row20" transform="translate(0,2884)">
<rect class="yb" x="751" y="-10" width="210" height="82"/>
<use href="#staff"/>
<circle class="g" cx="31" cy="0" r="5"/><circle class="g" cx="211" cy="0" r="5"/><circle class="g" cx="391" cy="0" r="5"/><circle class="g" cx="511" cy="0" r="5"/><circle class="g" cx="691" cy="0" r="5"/>
<circle class="r" cx="61" cy="15.25" r="5"/><circle class="r" cx="181" cy="15.25" r="5"/><circle class="r" cx="241" cy="15.25" r="5"/><circle class="r" cx="361" cy="15.25" r="5"/><circle class="r" cx="421" cy="15.25" r="5"/><circle class="r" cx="541" cy="15.25" r="5"/><circle class="r" cx="661" cy="15.25" r="5"/><circle class="r" cx="721" cy="15.25" r="5"/>
<circle class="y" cx="91" cy="30.5" r="5"/><circle class="y" cx="151" cy="30.5" r="5"/><circle class="y" cx="271" cy="30.5" r="5"/><circle class="y" cx="331" cy="30.5" r="5"/><circle class="y" cx="451" cy="30.5" r="5"/><circle class="y" cx="571" cy="30.5" r="5"/><circle class="y" cx="631" cy="30.5" r="5"/>
<circle class="b" cx="121" cy="45.75" r="5"/><circle class="b" cx="301" cy="45.75" r="5"/><circle class="b" cx="481" cy="45.75" r="5"/><circle class="b" cx="601" cy="45.75" r="5"/>
<use href="#st" class="g" x="871" y="0"/><use href="#st" class="r" x="841" y="15.25"/><use href="#st" class="r" x="901" y="15.25"/><use href="#st" class="y" x="751" y="30.5"/><use href="#st" class="y" x="811" y="30.5"/><use href="#st" class="y" x="931" y="30.5"/><use href="#st" class="b" x="781" y="45.75"/><use href="#st" class="b" x="961" y="45.75"/>
<rect class="od" x="751" y="0" width="210" height="61"/>
<text class="tp" x="31" y="-20">♩=93</text><text class="tp" x="271" y="-20">♩=92</text><text class="tp" x="511" y="-20">♩=93</text><text class="tp" x="751" y="-20">♩=93</text>
<text class="mn" x="32" y="-7">77</text><text class="mn" x="272" y="-7">78</text><text class="mn" x="512" y="-7">79</text><text class="mn" x="752" y="-7">80</text>
<text class="s1" x="270" y="76.5">200</text><text class="s2" x="270" y="89.5">112075</text><text class="s3" x="270" y="102.5">0.00%</text>
<text class="s1" x="510" y="76.5">200</text><text class="s2" x="510" y="89.5">113275</text><text class="s3" x="510" y="102.5">0.00%</text>
<text class="s1" x="750" y="76.5">200</text><text class="s2" x="750" y="89.5">114475</text><text class="s3" x="750" y="102.5">0.00%</text>
<text class="s1" x="990" y="76.5">200</text><text class="s2" x="990" y="89.5">115675</text><text class="s3" x="990" y="102.5">25.00%</text>
</g>

<g id="row21" transform="translate(0,3025)">
<use href="#staff"/>
<rect class="o" x="938.5" y="57.5" width="37" height="7"/>
<circle class="g" cx="31" cy="0" r="5"/><circle class="g" cx="211" cy="0" r="5"/><circle class="g" cx="511" cy="0" r="5"/><circle class="g" cx="541" cy="0" r="5"/><circle class="g" cx="601" cy="0" r="5"/><circle class="g" cx="631" cy="0" r="5"/><circle class="g" cx="661" cy="0" r="5"/><circle class="g" cx="721" cy="0" r="5"/><circle class="g" cx="751" cy="0" r="5"/><circle class="g" cx="781" cy="0" r="5"/><circle class="g" cx="841" cy="0" r="5"/><circle class="g" cx="871" cy="0" r="5"/><circle class="g" cx="901" cy="0" r="5"/>
<circle class="r" cx="61" cy="15.25" r="5"/><circle class="r" cx="181" cy="15.25" r="5"/><circle class="r" cx="241" cy="15.25" r="5"/><circle class="r" cx="361" cy="15.25" r="5"/>
<circle class="y" cx="91" cy="30.5" r="5"/><circle class="y" cx="151" cy="30.5" r="5"/><circle class="y" cx="271" cy="30.5" r="5"/><circle class="y" cx="331" cy="30.5" r="5"/><circle class="y" cx="571" cy="30.5" r="5"/><circle class="y" cx="811" cy="30.5" r="5"/>
<circle class="b" cx="121" cy="45.75" r="5"/><circle class="b" cx="301" cy="45.75" r="5"/><circle class="b" cx="931" cy="45.75" r="5"/>
<circle class="o" cx="691" cy="61" r="5"/><circle class="o" cx="938.5" cy="61" r="5"/>
<rect class="bl" x="931" y="0" width="60" height="61"/>
<rect class="rl" x="930.5" y="0" width="1" height="61"/>
<text class="tp" x="31" y="-20">♩=92</text><text class="tp" x="271" y="-20">♩=93</text><text class="tp" x="511" y="-20">♩=92</text><text class="tp" x="751" y="-20">♩=93</text>
<text class="mn" x="32" y="-7">81</text><text class="mn" x="272" y="-7">82</text><text class="mn" x="512" y="-7">83</text><text class="mn" x="752" y="-7">84</text>
<text class="s1" x="270" y="76.5">200</text><text class="s2" x="270" y="89.5">116875</text><text class="s3" x="270" y="102.5">25.00%</text>
<text class="s1" x="510" y="76.5">100</text><text class="s2" x="510" y="89.5">117475</text><text class="s3" x="510" y="102.5">25.00%</text>
<text class="s1" x="750" y="76.5">200</text><text class="s2" x="750" y="89.5">118675</text><text class="s3" x="750" y="102.5">25.00%</text>
<text class="s1" x="990" y="76.5">208</text><text class="s2" x="990" y="89.5">120271</text><text class="s3" x="990" y="102.5">21.95%</text>
</g>

<g id="row22" transform="translate(0,3166)">
<use href="#staff"/>
<rect class="o" x="938.5" y="57.5" width="37" height="7"/>
<circle class="g" cx="31" cy="0" r="5"/><circle class="g" cx="61" cy="0" r="5"/><circle class="g" cx="121" cy="0" r="5"/><circle class="g" cx="151" cy="0" r="5"/><circle class="g" cx="181" cy="0" r="5"/><circle class="g" cx="241" cy="0" r="5"/><circle class="g" cx="271" cy="0" r="5"/><circle class="g" cx="301" cy="0" r="5"/><circle class="g" cx="361" cy="0" r="5"/><circle class="g" cx="391" cy="0" r="5"/><circle class="g" cx="421" cy="0" r="5"/><circle class="g" cx="511" cy="0" r="5"/><circle class="g" cx="541" cy="0" r="5"/><circle class="g" cx="601" cy="0" r="5"/><circle class="g" cx="631" cy="0" r="5"/><circle class="g" cx="661" cy="0" r="5"/><circle class="g" cx="721" cy="0" r="5"/><circle class="g" cx="751" cy="0" r="5"/><circle class="g" cx="781" cy="0" r="5"/><circle class="g" cx="841" cy="0" r="5"/><circle class="g" cx="871" cy="0" r="5"/><circle class="g" cx="901" cy="0" r="5"/>
<circle class="y" cx="91" cy="30.5" r="5"/><circle class="y" cx="331" cy="30.5" r="5"/><circle class="y" cx="481" cy="30.5" r="5"/><circle class="y" cx="571" cy="30.5" r="5"/><circle class="y" cx="811" cy="30.5" r="5"/>
<circle class="b" cx="466" cy="45.75" r="5"/><circle class="b" cx="931" cy="45.75" r="5"/>
<circle class="o" cx="211" cy="61" r="5"/><circle class="o" cx="451" cy="61" r="5"/><circle class="o" cx="691" cy="61" r="5"/><circle class="o" cx="938.5" cy="61" r="5"/>
<rect class="bl" x="31" y="0" width="900" height="61"/>
<rect class="pk" x="931" y="0" width="7" height="61"/>
<text class="tp" x="31" y="-20">♩=92</text><text class="tp" x="271" y="-20">♩=92</text><text class="tp" x="511" y="-20">♩=92</text><text class="tp" x="751" y="-20">♩=93</text>
<text class="mn" x="32" y="-7">85</text><text class="mn" x="272" y="-7">86</text><text class="mn" x="512" y="-7">87</text><text class="mn" x="752" y="-7">88</text>
<text class="s1" x="270" y="76.5">200</text><text class="s2" x="270" y="89.5">122671</text><text class="s3" x="270" y="102.5">9.45%</text>
<text class="s1" x="510" y="76.5">225</text><text class="s2" x="510" y="89.5">125371</text><text class="s3" x="510" y="102.5">0.00%</text>
<text class="s1" x="750" y="76.5">200</text><text class="s2" x="750" y="89.5">127771</text><text class="s3" x="750" y="102.5">0.00%</text>
<text class="s1" x="990" y="76.5">208</text><text class="s2" x="990" y="89.5">130219</text><text class="s3" x="990" y="102.5">0.00%</text>
</g>

<g id="row23" transform="translate(0,3307)">
<rect class="yb" x="751" y="-10" width="224" height="82"/>
<use href="#staff"/>
<rect class="o" x="938.5" y="57.5" width="37" height="7"/>
<circle class="g" cx="31" cy="0" r="5"/><circle class="g" cx="61" cy="0" r="5"/><circle class="g" cx="121" cy="0" r="5"/><circle class="g" cx="151" cy="0" r="5"/><circle class="g" cx="181" cy="0" r="5"/><circle class="g" cx="241" cy="0" r="5"/><circle class="g" cx="271" cy="0" r="5"/><circle class="g" cx="301" cy="0" r="5"/><circle class="g" cx="361" cy="0" r="5"/><circle class="g" cx="391" cy="0" r="5"/><circle class="g" cx="421" cy="0" r="5"/><circle class="g" cx="511" cy="0" r="5"/><circle class="g" cx="541" cy="0" r="5"/><circle class="g" cx="601" cy="0" r="5"/><circle class="g" cx="631" cy="0" r="5"/><circle class="g" cx="661" cy="0" r="5"/><circle class="g" cx="721" cy="0" r="5"/>
<circle class="y" cx="91" cy="30.5" r="5"/><circle class="y" cx="331" cy="30.5" r="5"/><circle class="y" cx="481" cy="30.5" r="5"/><circle class="y" cx="571" cy="30.5" r="5"/>
<circle class="b" cx="466" cy="45.75" r="5"/>
<circle class="o" cx="211" cy="61" r="5"/><circle class="o" cx="451" cy="61" r="5"/><circle class="o" cx="691" cy="61" r="5"/>
<use href="#st" class="g" x="751" y="0"/><use href="#st" class="g" x="781" y="0"/><use href="#st" class="g" x="841" y="0"/><use href="#st" class="g" x="871" y="0"/><use href="#st" class="g" x="901" y="0"/><use href="#st" class="y" x="811" y="30.5"/><use href="#st" class="b" x="931" y="45.75"/><use href="#st" class="o" x="938.5" y="61"/>
<rect class="od" x="751" y="0" width="224" height="61"/>
<text class="tp" x="31" y="-20">♩=92</text><text class="tp" x="271" y="-20">♩=92</text><text class="tp" x="511" y="-20">♩=92</text><text class="tp" x="751" y="-20">♩=93</text>
<text class="mn" x="32" y="-7">89</text><text class="mn" x="272" y="-7">90</text><text class="mn" x="512" y="-7">91</text><text class="mn" x="752" y="-7">92</text>
<text class="s1" x="270" y="76.5">200</text><text class="s2" x="270" y="89.5">131419</text><text class="s3" x="270" y="102.5">0.00%</text>
<text class="s1" x="510" y="76.5">225</text><text class="s2" x="510" y="89.5">132769</text><text class="s3" x="510" y="102.5">0.00%</text>
<text class="s1" x="750" y="76.5">200</text><text class="s2" x="750" y="89.5">133969</text><text class="s3" x="750" y="102.5">0.00%</text>
<text class="s1" x="990" y="76.5">208</text><text class="s2" x="990" y="89.5">135217</text><text class="s3" x="990" y="102.5">27.12%</text>
</g>

<g id="row24" transform="translate(0,3448)">
<use href="#staff"/>
<rect class="o" x="938.5" y="57.5" width="37" height="7"/>
<circle class="g" cx="31" cy="0" r="5"/><circle class="g" cx="61" cy="0" r="5"/><circle class="g" cx="121" cy="0" r="5"/><circle class="g" cx="151" cy="0" r="5"/><circle class="g" cx="181" cy="0" r="5"/><circle class="g" cx="241" cy="0" r="5"/><circle class="g" cx="271" cy="0" r="5"/><circle class="g" cx="301" cy="0" r="5"/><circle class="g" cx="361" cy="0" r="5"/><circle class="g" cx="391" cy="0" r="5"/><circle class="g" cx="421" cy="0" r="5"/><circle class="g" cx="511" cy="0" r="5"/><circle class="g" cx="541" cy="0" r="5"/><circle class="g" cx="601" cy="0" r="5"/><circle class="g" cx="631" cy="0" r="5"/><circle class="g" cx="661" cy="0" r="5"/><circle class="g" cx="721" cy="0" r="5"/><circle class="g" cx="751" cy="0" r="5"/><circle class="g" cx="781" cy="0" r="5"/><circle class="g" cx="841" cy="0" r="5"/><circle class="g" cx="871" cy="0" r="5"/><circle class="g" cx="901" cy="0" r="5"/>
<circle class="y" cx="91" cy="30.5" r="5"/><circle class="y" cx="331" cy="30.5" r="5"/><circle class="y" cx="481" cy="30.5" r="5"/><circle class="y" cx="571" cy="30.5" r="5"/><circle class="y" cx="811" cy="30.5" r="5"/>
<circle class="b" cx="466" cy="45.75" r="5"/><circle class="b" cx="931" cy="45.75" r="5"/>
<circle class="o" cx="211" cy="61" r="5"/><circle class="o" cx="451" cy="61" r="5"/><circle class="o" cx="691" cy="61" r="5"/><circle class="o" cx="938.5" cy="61" r="5"/>
<text class="tp" x="31" y="-20">♩=92</text><text class="tp" x="271" y="-20">♩=93</text><text class="tp" x="511" y="-20">♩=92</text><text class="tp" x="751" y="-20">♩=93</text>
<text class="mn" x="32" y="-7">93</text><text class="mn" x="272" y="-7">94</text><text class="mn" x="512" y="-7">95</text><text class="mn" x="752" y="-7">96</text>
<text class="s1" x="270" y="76.5">200</text><text class="s2" x="270" y="89.5">136417</text><text class="s3" x="270" y="102.5">27.12%</text>
<text class="s1" x="510" y="76.5">225</text><text class="s2" x="510" y="89.5">137767</text><text class="s3" x="510" y="102.5">27.12%</text>
<text class="s1" x="750" y="76.5">200</text><text class="s2" x="750" y="89.5">138967</text><text class="s3" x="750" y="102.5">27.12%</text>
<text class="s1" x="990" y="76.5">208</text><text class="s2" x="990" y="89.5">140215</text><text class="s3" x="990" y="102.5">27.12%</text>
</g>

<g id="row25" transform="translate(0,3589)">
<use href="#staff"/>
<rect class="y" x="481" y="27" width="495" height="7"/>
<circle class="g" cx="31" cy="0" r="5"/><circle class="g" cx="61" cy="0" r="5"/><circle class="g" cx="121" cy="0" r="5"/><circle class="g" cx="151" cy="0" r="5"/><circle class="g" cx="181" cy="0" r="5"/><circle class="g" cx="241" cy="0" r="5"/><circle class="g" cx="271" cy="0" r="5"/><circle class="g" cx="301" cy="0" r="5"/><circle class="g" cx="361" cy="0" r="5"/><circle class="g" cx="391" cy="0" r="5"/><circle class="g" cx="421" cy="0" r="5"/>
<circle class="y" cx="91" cy="30.5" r="5"/><circle class="y" cx="331" cy="30.5" r="5"/><circle class="y" cx="481" cy="30.5" r="5"/>
<circle class="b" cx="466" cy="45.75" r="5"/>
<circle class="o" cx="211" cy="61" r="5"/><circle class="o" cx="451" cy="61" r="5"/>
<text class="tp" x="31" y="-20">♩=92</text><text class="tp" x="271" y="-20">♩=93</text><text class="tp" x="511" y="-20">♩=92</text><text class="tp" x="751" y="-20">♩=93</text>
<text class="mn" x="32" y="-7">97</text><text class="mn" x="272" y="-7">98</text><text class="mn" x="512" y="-7">99</text><text class="mn" x="752" y="-7">100</text>
<text class="s1" x="270" y="76.5">200</text><text class="s2" x="270" y="89.5">141425</text><text class="s3" x="270" y="102.5">27.12%</text>
<text class="s1" x="510" y="76.5">225</text><text class="s2" x="510" y="89.5">143081</text><text class="s3" x="510" y="102.5">27.12%</text>
<text class="s1" x="750" y="76.5">73</text><text class="s2" x="750" y="89.5">145609</text><text class="s3" x="750" y="102.5">27.12%</text>
<text class="s1" x="990" y="76.5">45</text><text class="s2" x="990" y="89.5">145399</text><text class="s3" x="990" y="102.5">27.12%</text>
</g>

<g id="row26" transform="translate(0,3730)">
<use href="#staff"/>
<rect class="o" x="31" y="0" width="4" height="61"/>
<circle class="y" cx="271" cy="30.5" r="5"/><circle class="b" cx="301" cy="45.75" r="5"/><circle class="y" cx="331" cy="30.5" r="5"/><circle class="r" cx="361" cy="15.25" r="5"/><circle class="g" cx="391" cy="0" r="5"/><circle class="r" cx="421" cy="15.25" r="5"/><circle class="y" cx="451" cy="30.5" r="5"/><circle class="b" cx="481" cy="45.75" r="5"/>
<circle class="g" cx="511" cy="0" r="5"/><circle class="r" cx="541" cy="15.25" r="5"/><circle class="y" cx="571" cy="30.5" r="5"/><circle class="b" cx="601" cy="45.75" r="5"/><circle class="y" cx="631" cy="30.5" r="5"/><circle class="r" cx="661" cy="15.25" r="5"/><circle class="g" cx="691" cy="0" r="5"/><circle class="r" cx="721" cy="15.25" r="5"/>
<circle class="y" cx="751" cy="30.5" r="5"/><circle class="b" cx="781" cy="45.75" r="5"/><circle class="y" cx="811" cy="30.5" r="5"/><circle class="r" cx="841" cy="15.25" r="5"/><circle class="g" cx="871" cy="0" r="5"/><circle class="r" cx="901" cy="15.25" r="5"/><circle class="y" cx="931" cy="30.5" r="5"/><circle class="b" cx="961" cy="45.75" r="5"/>
<use href="#st" class="g" x="46" y="0"/><use href="#st" class="r" x="61" y="15.25"/><use href="#st" class="y" x="91" y="30.5"/><use href="#st" class="b" x="121" y="45.75"/><use href="#st" class="y" x="151" y="30.5"/><use href="#st" class="r" x="181" y="15.25"/><use href="#st" class="g" x="211" y="0"/><use href="#st" class="r" x="241" y="15.25"/>
<rect class="od" x="31" y="0" width="212" height="61"/>
<rect class="bl" x="31" y="0" width="960" height="61"/>
<text class="tp" x="31" y="-20">♩=92</text><text class="tp" x="271" y="-20">♩=93</text><text class="tp" x="511" y="-20">♩=92</text><text class="tp" x="751" y="-20">♩=93</text>
<text class="mn" x="32" y="-7">101</text><text class="mn" x="272" y="-7">102</text><text class="mn" x="512" y="-7">103</text><text class="mn" x="752" y="-7">104</text>
<text class="s1" x="270" y="76.5">400</text><text class="s2" x="270" y="89.5">145759</text><text class="s3" x="270" y="102.5">48.11%</text>
<text class="s1" x="510" y="76.5">400</text><text class="s2" x="510" y="89.5">148159</text><text class="s3" x="510" y="102.5">27.61%</text>
<text class="s1" x="750" y="76.5">400</text><text class="s2" x="750" y="89.5">150559</text><text class="s3" x="750" y="102.5">15.11%</text>
<text class="s1" x="990" y="76.5">400</text><text class="s2" x="990" y="89.5">152959</text><text class="s3" x="990" y="102.5">2.61%</text>
</g>

<g id="row27" transform="translate(0,3871)">
<use href="#staff"/>
<circle class="g" cx="31" cy="0" r="5"/><circle class="r" cx="61" cy="15.25" r="5"/><circle class="y" cx="91" cy="30.5" r="5"/><circle class="b" cx="121" cy="45.75" r="5"/><circle class="y" cx="151" cy="30.5" r="5"/><circle class="r" cx="181" cy="15.25" r="5"/><circle class="g" cx="211" cy="0" r="5"/><circle class="r" cx="241" cy="15.25" r="5"/>
<circle class="y" cx="271" cy="30.5" r="5"/><circle class="b" cx="301" cy="45.75" r="5"/><circle class="y" cx="331" cy="30.5" r="5"/><circle class="r" cx="361" cy="15.25" r="5"/><circle class="g" cx="391" cy="0" r="5"/><circle class="r" cx="421" cy="15.25" r="5"/><circle class="y" cx="451" cy="30.5" r="5"/><circle class="b" cx="481" cy="45.75" r="5"/>
<circle class="g" cx="511" cy="0" r="5"/><circle class="r" cx="541" cy="15.25" r="5"/><circle class="y" cx="571" cy="30.5" r="5"/><circle class="b" cx="601" cy="45.75" r="5"/><circle class="y" cx="631" cy="30.5" r="5"/><circle class="r" cx="661" cy="15.25" r="5"/><circle class="g" cx="691" cy="0" r="5"/><circle class="r" cx="721" cy="15.25" r="5"/>
<circle class="y" cx="751" cy="30.5" r="5"/><circle class="b" cx="781" cy="45.75" r="5"/><circle class="y" cx="811" cy="30.5" r="5"/><circle class="r" cx="841" cy="15.25" r="5"/><circle class="g" cx="871" cy="0" r="5"/>
<rect class="bl" x="31" y="0" width="529" height="61"/>
<rect class="pk" x="560" y="0" width="7" height="61"/>
<text class="tp" x="31" y="-20">♩=92</text><text class="tp" x="271" y="-20">♩=93</text><text class="tp" x="511" y="-20">♩=92</text><text class="tp" x="751" y="-20">♩=93</text>
<text class="mn" x="32" y="-7">105</text><text class="mn" x="272" y="-7">106</text><text class="mn" x="512" y="-7">107</text><text class="mn" x="752" y="-7">108</text>
<text class="s1" x="270" y="76.5">200</text><text class="s2" x="270" y="89.5">155359</text><text class="s3" x="270" y="102.5">0.00%</text>
<text class="s1" x="510" y="76.5">200</text><text class="s2" x="510" y="89.5">157759</text><text class="s3" x="510" y="102.5">0.00%</text>
<text class="s1" x="750" y="76.5">200</text><text class="s2" x="750" y="89.5">159489</text><text class="s3" x="750" y="102.5">0.00%</text>
<text class="s1" x="990" y="76.5">0</text><text class="s2" x="990" y="89.5">160009</text><text class="s3" x="990" y="102.5">0.00%</text>
</g>
</svg>
